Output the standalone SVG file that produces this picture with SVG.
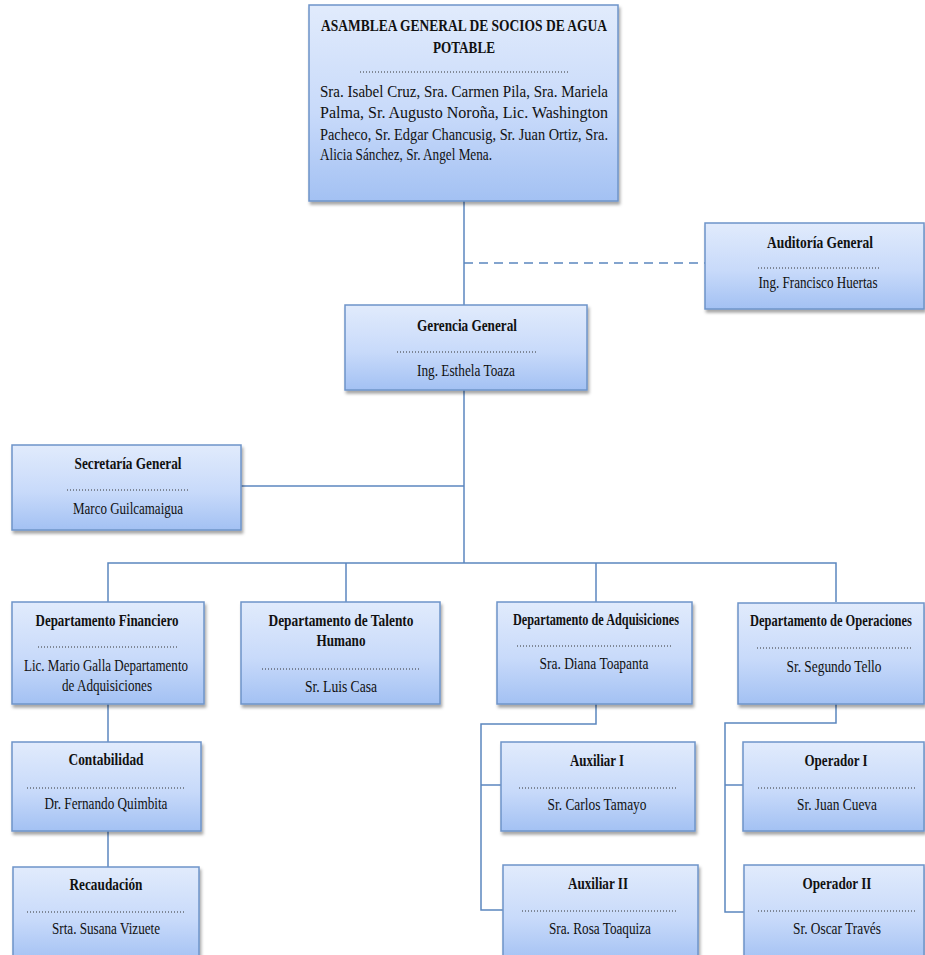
<svg xmlns="http://www.w3.org/2000/svg" width="925" height="955" viewBox="0 0 925 955">
  <defs>
    <linearGradient id="boxFill" x1="0" y1="0" x2="0" y2="1">
      <stop offset="0" stop-color="#e1ebfc"/>
      <stop offset="0.55" stop-color="#c8dafa"/>
      <stop offset="1" stop-color="#a3c1f3"/>
    </linearGradient>
    <filter id="shadow" x="-10%" y="-10%" width="125%" height="130%">
      <feDropShadow dx="1.5" dy="3" stdDeviation="1.8" flood-color="#000" flood-opacity="0.35"/>
    </filter>
  </defs>
  <style>
    .box { fill: url(#boxFill); stroke: #6e94c9; stroke-width: 1.5; filter: url(#shadow); }
    .title { font-family: "Liberation Serif", "Times New Roman", serif; font-weight: bold; font-size: 16.5px; fill: #111; text-anchor: middle; }
    .name { font-family: "Liberation Serif", "Times New Roman", serif; font-size: 16.5px; fill: #111; text-anchor: middle; }
    .body { font-family: "Liberation Serif", "Times New Roman", serif; font-size: 16.5px; fill: #111; }
    .dots { stroke: #333; stroke-width: 1; stroke-dasharray: 1 2; }
    .link { fill: none; stroke: #5b86bf; stroke-width: 1.5; }
    .dash { fill: none; stroke: #5b86bf; stroke-width: 1.5; stroke-dasharray: 9 6; }
  </style>

  <rect width="925" height="955" fill="#ffffff"/>

  <!-- connectors -->
  <g id="connectors">
    <path class="link" d="M464 201 V305"/>
    <path class="dash" d="M464 263 H705"/>
    <path class="link" d="M464 389 V563"/>
    <path class="link" d="M241 486 H464"/>
    <path class="link" d="M108 602 V563 H836 V602"/>
    <path class="link" d="M346 563 V602"/>
    <path class="link" d="M596 563 V602"/>
    <path class="link" d="M108 704 V742"/>
    <path class="link" d="M108 831 V867"/>
    <path class="link" d="M596 704 V724 H481 V910 H503"/>
    <path class="link" d="M481 785 H501"/>
    <path class="link" d="M836 704 V723 H725 V912 H744"/>
    <path class="link" d="M725 785 H743"/>
  </g>

  <!-- assembly -->
  <g id="asamblea">
    <rect class="box" x="309" y="5" width="309" height="196"/>
    <text class="title" x="464" y="31" textLength="286" lengthAdjust="spacingAndGlyphs">ASAMBLEA GENERAL DE SOCIOS DE AGUA</text>
    <text class="title" x="464" y="53" textLength="62" lengthAdjust="spacingAndGlyphs">POTABLE</text>
    <line class="dots" x1="360" y1="72" x2="568" y2="72" stroke-width="2"/>
    <text class="body" x="320" y="97" textLength="288" lengthAdjust="spacingAndGlyphs">Sra. Isabel Cruz, Sra. Carmen Pila, Sra. Mariela</text>
    <text class="body" x="320" y="118" textLength="288" lengthAdjust="spacingAndGlyphs">Palma, Sr. Augusto Noroña, Lic. Washington</text>
    <text class="body" x="320" y="140" textLength="288" lengthAdjust="spacingAndGlyphs">Pacheco, Sr. Edgar Chancusig, Sr. Juan Ortiz, Sra.</text>
    <text class="body" x="320" y="160" textLength="172" lengthAdjust="spacingAndGlyphs">Alicia Sánchez, Sr. Angel Mena.</text>
  </g>

  <g id="auditoria">
    <rect class="box" x="705" y="223" width="219" height="86"/>
    <text class="title" x="820" y="248" textLength="106" lengthAdjust="spacingAndGlyphs">Auditoría  General</text>
    <line class="dots" x1="758" y1="268" x2="880" y2="268"/>
    <text class="name" x="818" y="288" textLength="119" lengthAdjust="spacingAndGlyphs">Ing. Francisco Huertas</text>
  </g>

  <g id="gerencia">
    <rect class="box" x="345" y="305" width="242" height="85"/>
    <text class="title" x="467" y="331" textLength="100" lengthAdjust="spacingAndGlyphs">Gerencia General</text>
    <line class="dots" x1="397" y1="352" x2="536" y2="352"/>
    <text class="name" x="466" y="376" textLength="98" lengthAdjust="spacingAndGlyphs">Ing. Esthela Toaza</text>
  </g>

  <g id="secretaria">
    <rect class="box" x="12" y="445" width="229" height="85"/>
    <text class="title" x="128" y="469" textLength="107" lengthAdjust="spacingAndGlyphs">Secretaría General</text>
    <line class="dots" x1="67" y1="490" x2="188" y2="490"/>
    <text class="name" x="128" y="514" textLength="110" lengthAdjust="spacingAndGlyphs">Marco Guilcamaigua</text>
  </g>

  <g id="financiero">
    <rect class="box" x="12" y="602" width="192" height="102"/>
    <text class="title" x="107" y="626" textLength="143" lengthAdjust="spacingAndGlyphs">Departamento Financiero</text>
    <line class="dots" x1="38" y1="647" x2="177" y2="647"/>
    <text class="name" x="106" y="671" textLength="164" lengthAdjust="spacingAndGlyphs">Lic. Mario Galla Departamento</text>
    <text class="name" x="107" y="691" textLength="90" lengthAdjust="spacingAndGlyphs">de Adquisiciones</text>
  </g>

  <g id="talento">
    <rect class="box" x="241" y="602" width="199" height="102"/>
    <text class="title" x="341" y="626" textLength="145" lengthAdjust="spacingAndGlyphs">Departamento de Talento</text>
    <text class="title" x="341" y="646" textLength="49" lengthAdjust="spacingAndGlyphs">Humano</text>
    <line class="dots" x1="262" y1="669" x2="420" y2="669"/>
    <text class="name" x="341" y="692" textLength="72" lengthAdjust="spacingAndGlyphs">Sr. Luis Casa</text>
  </g>

  <g id="adquisiciones">
    <rect class="box" x="497" y="602" width="195" height="102"/>
    <text class="title" x="596" y="625" textLength="166" lengthAdjust="spacingAndGlyphs">Departamento de Adquisiciones</text>
    <line class="dots" x1="517" y1="646" x2="673" y2="646"/>
    <text class="name" x="594" y="669" textLength="109" lengthAdjust="spacingAndGlyphs">Sra. Diana Toapanta</text>
  </g>

  <g id="operaciones">
    <rect class="box" x="738" y="603" width="186" height="101"/>
    <!-- long heading condensed horizontally to fit the box -->
    <text class="title" transform="translate(831 626) scale(0.755 1)" x="0" y="0">Departamento de Operaciones</text>
    <line class="dots" x1="757" y1="648" x2="913" y2="648"/>
    <text class="name" x="834" y="672" textLength="95" lengthAdjust="spacingAndGlyphs">Sr. Segundo Tello</text>
  </g>

  <g id="contabilidad">
    <rect class="box" x="12" y="742" width="189" height="89"/>
    <text class="title" x="106" y="765" textLength="75" lengthAdjust="spacingAndGlyphs">Contabilidad</text>
    <line class="dots" x1="27" y1="788" x2="184" y2="788"/>
    <text class="name" x="106" y="809" textLength="123" lengthAdjust="spacingAndGlyphs">Dr. Fernando Quimbita</text>
  </g>

  <g id="recaudacion">
    <rect class="box" x="13" y="867" width="186" height="95"/>
    <text class="title" x="106" y="890" textLength="73" lengthAdjust="spacingAndGlyphs">Recaudación</text>
    <line class="dots" x1="27" y1="912" x2="184" y2="912"/>
    <text class="name" x="106" y="934" textLength="108" lengthAdjust="spacingAndGlyphs">Srta. Susana Vizuete</text>
  </g>

  <g id="auxiliar1">
    <rect class="box" x="501" y="742" width="194" height="89"/>
    <text class="title" x="597" y="766" textLength="54" lengthAdjust="spacingAndGlyphs">Auxiliar I</text>
    <line class="dots" x1="519" y1="788" x2="676" y2="788"/>
    <text class="name" x="597" y="810" textLength="99" lengthAdjust="spacingAndGlyphs">Sr. Carlos Tamayo</text>
  </g>

  <g id="auxiliar2">
    <rect class="box" x="503" y="865" width="195" height="97"/>
    <text class="title" x="598" y="889" textLength="60" lengthAdjust="spacingAndGlyphs">Auxiliar II</text>
    <line class="dots" x1="522" y1="911" x2="678" y2="911"/>
    <text class="name" x="600" y="934" textLength="102" lengthAdjust="spacingAndGlyphs">Sra. Rosa Toaquiza</text>
  </g>

  <g id="operador1">
    <rect class="box" x="743" y="742" width="181" height="89"/>
    <text class="title" x="836" y="766" textLength="63" lengthAdjust="spacingAndGlyphs">Operador I</text>
    <line class="dots" x1="758" y1="788" x2="916" y2="788"/>
    <text class="name" x="837" y="810" textLength="80" lengthAdjust="spacingAndGlyphs">Sr. Juan Cueva</text>
  </g>

  <g id="operador2">
    <rect class="box" x="744" y="865" width="180" height="97"/>
    <text class="title" x="837" y="889" textLength="69" lengthAdjust="spacingAndGlyphs">Operador II</text>
    <line class="dots" x1="758" y1="911" x2="916" y2="911"/>
    <text class="name" x="837" y="934" textLength="88" lengthAdjust="spacingAndGlyphs">Sr. Oscar Través</text>
  </g>
</svg>
